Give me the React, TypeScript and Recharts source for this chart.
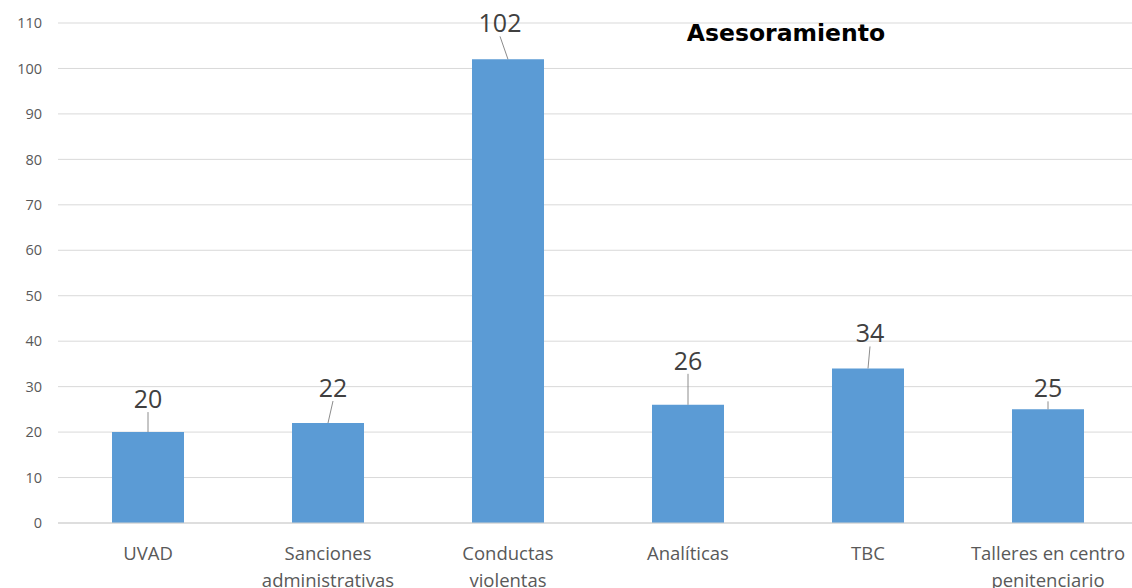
import React from "react";
import { BarChart, Bar, XAxis, YAxis, CartesianGrid, LabelList } from "recharts";

const categories = ["UVAD", "Sanciones administrativas", "Conductas violentas", "Analíticas", "TBC", "Talleres en centro penitenciario"];
const tickLines = [["UVAD"], ["Sanciones", "administrativas"], ["Conductas", "violentas"], ["Analíticas"], ["TBC"], ["Talleres en centro", "penitenciario"]];
const values = [20, 22, 102, 26, 34, 25];
const yTicks = [0, 10, 20, 30, 40, 50, 60, 70, 80, 90, 100, 110];
const title = "Asesoramiento";

// label placement relative to bar top (layout only)
const labelDx = [0, 5, -8, 0, 2, 0];
const labelDy = [-34, -36, -37, -45, -36, -22];

const data = categories.map((c, i) => ({ name: c, value: values[i] }));

const FONT = "'Open Sans', 'Noto Sans', sans-serif";

const XTick = (props: any) => {
  const { x, y, index } = props;
  const lines = tickLines[index] || [String(props.payload.value)];
  return (
    <g>
      {lines.map((l: string, i: number) => (
        <text key={i} x={x} y={y + 21 + i * 27} textAnchor="middle" dominantBaseline="central" fill="#595959" fontSize={18.5} fontFamily={FONT}>
          {l}
        </text>
      ))}
    </g>
  );
};

const DataLabel = (props: any) => {
  const { x, y, width, value, index } = props;
  const cx = Number(x) + Number(width) / 2;
  const top = Number(y);
  const lx = cx + labelDx[index];
  const ly = top + labelDy[index];
  const lineEnd = ly + 14;
  return (
    <g>
      {top - lineEnd > 4 && <line x1={cx} y1={top} x2={lx} y2={lineEnd} stroke="#8c8c8c" strokeWidth={1} />}
      <text x={lx} y={ly} textAnchor="middle" dominantBaseline="central" fill="#404040" fontSize={25} fontFamily={FONT}>
        {value}
      </text>
    </g>
  );
};

export default function App() {
  return (
    <div style={{ position: "fixed", left: 0, top: 0, width: 1132, height: 588, overflow: "hidden", background: "#fff" }}>
      <BarChart width={1150} height={588} data={data} margin={{ top: 23, right: 12, left: 0, bottom: 0 }}>
        <CartesianGrid vertical={false} stroke="#D9D9D9" />
        <XAxis dataKey="name" height={65} tickLine={false} axisLine={{ stroke: "#D0D0D0" }} interval={0} tick={<XTick />} />
        <YAxis width={58} domain={[0, 110]} ticks={yTicks} tickLine={false} axisLine={false} tickMargin={10} tick={{ fill: "#595959", fontSize: 14.5, fontFamily: FONT }} />
        <Bar dataKey="value" fill="#5B9BD5" barSize={72} isAnimationActive={false}>
          <LabelList dataKey="value" content={<DataLabel />} />
        </Bar>
        <text x={786} y={33} textAnchor="middle" dominantBaseline="central" fontSize={23.5} fontWeight="bold" fontFamily="'DejaVu Sans', Verdana, sans-serif" fill="#000">
          {title}
        </text>
      </BarChart>
    </div>
  );
}
